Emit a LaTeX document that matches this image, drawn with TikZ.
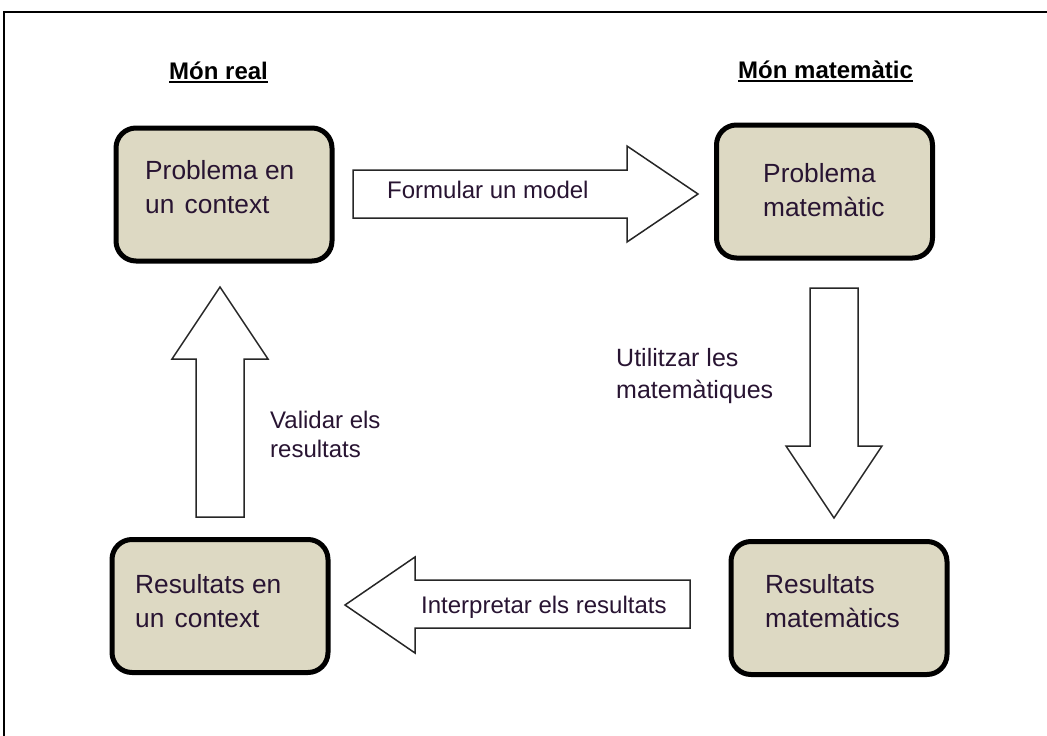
\documentclass[tikz,border=0pt]{standalone}
\usepackage{fontspec}
\setmainfont{Liberation Sans}
\definecolor{boxfill}{HTML}{DDD9C3}
\definecolor{txt}{RGB}{40,20,50}
\begin{document}
\begin{tikzpicture}[x=1pt,y=-1pt,
  box/.style={draw=black,line width=5pt,rounded corners=20pt,fill=boxfill,
              minimum width=216pt,minimum height=133pt,inner sep=0pt},
  lbl/.style={inner sep=0pt,anchor=base west,align=left,text=txt,
              font=\fontsize{24}{33}\selectfont},
  boxtext/.style={lbl,font=\fontsize{26.3}{34}\selectfont},
  title/.style={inner sep=0pt,anchor=base west,text=black,
              font=\fontsize{24}{28}\selectfont\bfseries},
  blockarrow/.style={draw=black!85,line width=1.5pt,fill=white,line join=miter},
  frame/.style={draw=black,line width=2pt}]
\useasboundingbox (0,0) rectangle (1047,736);
\draw[frame] (4,736) -- (4,12) -- (1047,12);

% titles
\node[title] (real) at (169,79) {Món real};
\node[title] (mat) at (738,78) {Món matemàtic};
\draw[line width=2pt] ([yshift=-3pt]real.base west) -- ([yshift=-3pt]real.base east);
\draw[line width=2pt] ([yshift=-3pt]mat.base west) -- ([yshift=-3pt]mat.base east);

% boxes
\node[box] (pc) at (224,194.5) {};
\node[box] (pm) at (824.5,191.5) {};
\node[box] (rc) at (220,606) {};
\node[box] (rm) at (839,608) {};

% box texts (base anchor = baseline of the last line)
\node[boxtext] (tpc) at (145,213) {Problema en\\un\hspace{3pt} context};
\node[boxtext] (tpm) at (763,216) {Problema\\matemàtic};
\node[boxtext] (trc) at (135,627) {Resultats en\\un\hspace{3pt} context};
\node[boxtext] (trm) at (765,627) {Resultats\\matemàtics};

% block arrows
\draw[blockarrow] (353,170) -- (627,170) -- (627,146) -- (698,194) -- (627,242) -- (627,218) -- (353,218) -- cycle;
\draw[blockarrow] (810,288) -- (858,288) -- (858,446) -- (882,446) -- (834,518) -- (786,446) -- (810,446) -- cycle;
\draw[blockarrow] (690,580) -- (415,580) -- (415,557) -- (345,605) -- (415,653) -- (415,628) -- (690,628) -- cycle;
\draw[blockarrow] (196,517) -- (196,359) -- (172,359) -- (220,287) -- (268,359) -- (244,359) -- (244,517) -- cycle;

% arrow labels
\node[lbl] (lf) at (387,198) {Formular un model};
\node[lbl] (li) at (421,613) {Interpretar els resultats};
\node[lbl,font=\fontsize{25}{32}\selectfont] (lu) at (616,398) {Utilitzar les\\matemàtiques};
\node[lbl,font=\fontsize{24}{29}\selectfont] (lv) at (270,457) {Validar els\\resultats};
\end{tikzpicture}
\end{document}
